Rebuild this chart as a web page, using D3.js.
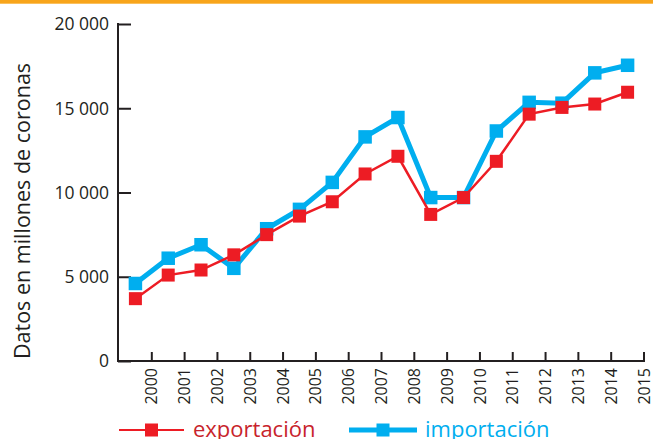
<!DOCTYPE html>
<html>
<head>
<meta charset="utf-8">
<script src="https://cdn.jsdelivr.net/npm/d3@7"></script>
<style>
  body { margin: 0; background: #fff; }
  svg { display: block; font-family: "Open Sans", sans-serif; }
</style>
</head>
<body>
<div id="chart"></div>
<script>
const years = [2000, 2001, 2002, 2003, 2004, 2005, 2006, 2007, 2008, 2009, 2010, 2011, 2012, 2013, 2014, 2015];
const exportacion = [3700, 5100, 5400, 6300, 7500, 8600, 9450, 11100, 12150, 8700, 9700, 11850, 14650, 15050, 15250, 15950];
const importacion = [4600, 6100, 6900, 5500, 7850, 9000, 10600, 13300, 14450, 9700, 9700, 13650, 15350, 15300, 17100, 17550];
const yTicks = [0, 5000, 10000, 15000, 20000];
const yTickLabels = ["0", "5 000", "10 000", "15 000", "20 000"];
const seriesNames = ["exportación", "importación"];

const width = 653, height = 439;
const axisColor = "#231F20";
const red = "#ED1C24", blue = "#00AEEF";

const svg = d3.select("#chart").append("svg")
  .attr("width", width)
  .attr("height", height);

// orange strip at the top
svg.append("rect")
  .attr("x", 0).attr("y", 0)
  .attr("width", width).attr("height", 3.7)
  .attr("fill", "#F8A51B");

const x = d3.scaleBand()
  .domain(years)
  .range([119, 644])
  .paddingInner(0).paddingOuter(0);

const y = d3.scaleLinear()
  .domain([0, 20000])
  .range([361, 24]);

const cx = d => x(d) + x.bandwidth() / 2;

// y axis
const yAxis = svg.append("g")
  .attr("transform", "translate(118,0)")
  .call(d3.axisRight(y).tickValues(yTicks).tickSize(13).tickFormat(""));
yAxis.select(".domain").attr("d", `M0,${y(20000) - 1}V${y(0) + 1}`)
  .attr("stroke", axisColor).attr("stroke-width", 2);
yAxis.selectAll(".tick line").attr("stroke", axisColor).attr("stroke-width", 2);

svg.selectAll(".ylabel")
  .data(yTicks)
  .enter().append("text")
    .attr("class", "ylabel")
    .attr("x", 109)
    .attr("y", d => y(d))
    .attr("dy", "0.36em")
    .attr("text-anchor", "end")
    .attr("fill", axisColor)
    .style("font-size", "17.5px")
    .text((d, i) => yTickLabels[i]);

svg.append("text")
  .attr("transform", "translate(29.5,211) rotate(-90)")
  .attr("text-anchor", "middle")
  .attr("fill", axisColor)
  .style("font-size", "21.5px")
  .text("Datos en millones de coronas");

// x axis, ticks sit on the right edge of each year's band
const xAxis = svg.append("g")
  .attr("transform", `translate(0,${y(0)})`);
xAxis.append("line")
  .attr("x1", 117).attr("x2", x(2015) + x.bandwidth() + 1)
  .attr("stroke", axisColor).attr("stroke-width", 2);
xAxis.selectAll(".xtick")
  .data(years)
  .enter().append("line")
    .attr("class", "xtick")
    .attr("x1", d => x(d) + x.bandwidth())
    .attr("x2", d => x(d) + x.bandwidth())
    .attr("y1", 0).attr("y2", -9)
    .attr("stroke", axisColor).attr("stroke-width", 2);
xAxis.selectAll(".xlabel")
  .data(years)
  .enter().append("text")
    .attr("class", "xlabel")
    .attr("transform", d => `translate(${x(d) + x.bandwidth()},7) rotate(-90)`)
    .attr("dy", "0.35em")
    .attr("text-anchor", "end")
    .attr("fill", axisColor)
    .style("font-size", "16px")
    .text(d => d);

// series
const line = d3.line()
  .x(d => cx(d.year))
  .y(d => y(d.value));

const series = [
  { name: seriesNames[1], values: importacion, color: blue, width: 5, size: 13.5 },
  { name: seriesNames[0], values: exportacion, color: red, width: 2.5, size: 13 }
];

series.forEach(s => {
  const pts = years.map((yr, i) => ({ year: yr, value: s.values[i] }));
  svg.append("path")
    .datum(pts)
    .attr("fill", "none")
    .attr("stroke", s.color)
    .attr("stroke-width", s.width)
    .attr("stroke-linejoin", "miter")
    .attr("d", line);
  svg.selectAll(null)
    .data(pts)
    .enter().append("rect")
      .attr("x", d => cx(d.year) - s.size / 2)
      .attr("y", d => y(d.value) - s.size / 2)
      .attr("width", s.size)
      .attr("height", s.size)
      .attr("fill", s.color);
});

// legend
const legend = [
  { name: seriesNames[0], color: red, text: "#C8232B", x1: 119, x2: 184, w: 2, tx: 193 },
  { name: seriesNames[1], color: blue, text: blue, x1: 349, x2: 417, w: 5, tx: 425 }
];
legend.forEach(l => {
  const g = svg.append("g");
  g.append("line")
    .attr("x1", l.x1).attr("x2", l.x2)
    .attr("y1", 430).attr("y2", 430)
    .attr("stroke", l.color).attr("stroke-width", l.w);
  g.append("rect")
    .attr("x", (l.x1 + l.x2) / 2 - 6.5)
    .attr("y", 430 - 6.5)
    .attr("width", 13).attr("height", 13)
    .attr("fill", l.color);
  g.append("text")
    .attr("x", l.tx)
    .attr("y", 437)
    .attr("fill", l.text)
    .style("font-size", "22px")
    .text(l.name);
});
</script>
</body>
</html>
